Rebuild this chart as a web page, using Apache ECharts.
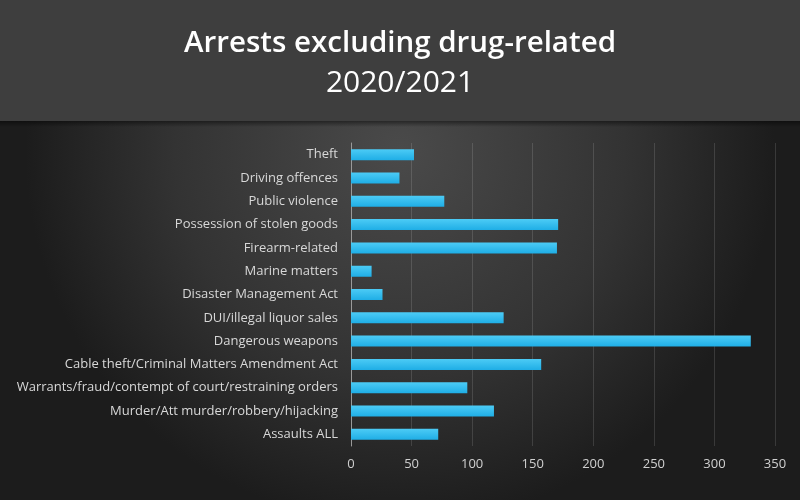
<!DOCTYPE html>
<html>
<head>
<meta charset="utf-8">
<title>Arrests excluding drug-related 2020/2021</title>
<script src="https://cdn.jsdelivr.net/npm/echarts@6/dist/echarts.min.js"></script>
<style>
    html, body { margin: 0; padding: 0; background: #2a2a2a; }
    #chart { width: 800px; height: 500px; }
</style>
</head>
<body>
<div id="chart"></div>
<script>
// 类别（从上到下）
var categories = [
    'Theft',
    'Driving offences',
    'Public violence',
    'Possession of stolen goods',
    'Firearm-related',
    'Marine matters',
    'Disaster Management Act',
    'DUI/illegal liquor sales',
    'Dangerous weapons',
    'Cable theft/Criminal Matters Amendment Act',
    'Warrants/fraud/contempt of court/restraining orders',
    'Murder/Att murder/robbery/hijacking',
    'Assaults ALL'
];
// 逮捕数
var arrests = [52, 40, 77, 171, 170, 17, 26, 126, 330, 157, 96, 118, 72];
var xTicks = [0, 50, 100, 150, 200, 250, 300, 350];

var myChart = echarts.init(document.getElementById('chart'));
var option = {
    backgroundColor: {
        type: 'radial',
        x: 0.5, y: 0.3, r: 0.75,
        colorStops: [
            { offset: 0, color: '#4a4a4a' },
            { offset: 0.6, color: '#333333' },
            { offset: 1, color: '#1c1c1c' }
        ]
    },
    graphic: [{
        type: 'rect',
        z: -1,
        shape: { x: 0, y: 0, width: 800, height: 121 },
        style: { fill: '#3e3e3e' }
    }, {
        type: 'rect',
        z: -1,
        shape: { x: 0, y: 121, width: 800, height: 6 },
        style: {
            fill: {
                type: 'linear', x: 0, y: 0, x2: 0, y2: 1,
                colorStops: [
                    { offset: 0, color: 'rgba(0,0,0,0.45)' },
                    { offset: 1, color: 'rgba(0,0,0,0)' }
                ]
            }
        }
    }],
    title: [{
        text: 'Arrests excluding drug-related',
        left: 'center',
        top: 24,
        textStyle: {
            color: '#ffffff',
            fontFamily: 'Open Sans',
            fontWeight: 600,
            fontSize: 29.5
        }
    }, {
        text: '2020/2021',
        left: 'center',
        top: 63,
        textStyle: {
            color: '#ffffff',
            fontFamily: 'Open Sans',
            fontWeight: 'normal',
            fontSize: 30
        }
    }],
    grid: {
        left: 351,
        right: 25,
        top: 143,
        bottom: 54
    },
    xAxis: {
        type: 'value',
        min: 0,
        max: 350,
        interval: 50,
        axisLine: { show: false },
        axisTick: { show: false },
        splitLine: {
            show: true,
            lineStyle: { color: 'rgba(255,255,255,0.13)', width: 1 }
        },
        axisLabel: {
            color: '#d0d0d0',
            fontFamily: 'Open Sans',
            fontSize: 13,
            margin: 12,
            formatter: function (v) {
                return xTicks.indexOf(v) >= 0 ? String(v) : '';
            }
        }
    },
    yAxis: {
        type: 'category',
        inverse: true,
        data: categories,
        axisLine: {
            show: true,
            lineStyle: { color: '#9a9a9a', width: 1 }
        },
        axisTick: { show: false },
        axisLabel: {
            color: '#d8d8d8',
            fontFamily: 'Open Sans',
            fontSize: 13,
            margin: 13
        }
    },
    series: [{
        name: 'Arrests',
        type: 'bar',
        data: arrests,
        barWidth: 11,
        itemStyle: {
            color: {
                type: 'linear', x: 0, y: 0, x2: 0, y2: 1,
                colorStops: [
                    { offset: 0, color: '#4ccbf5' },
                    { offset: 1, color: '#1faee6' }
                ]
            },
            shadowColor: 'rgba(0,0,0,0.7)',
            shadowBlur: 3,
            shadowOffsetX: 2,
            shadowOffsetY: 2
        }
    }]
};
myChart.setOption(option);
</script>
</body>
</html>
